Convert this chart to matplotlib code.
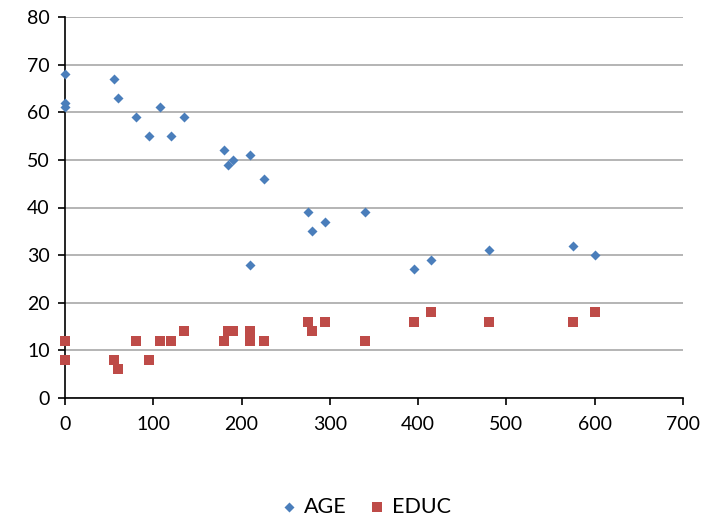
import matplotlib
matplotlib.use('Agg')
import matplotlib.pyplot as plt

plt.rcParams['font.family'] = ['Lato', 'DejaVu Sans']

age_x = [0, 0, 0, 55, 60, 80, 95, 108, 120, 135, 180, 185, 190, 210, 225,
         275, 280, 295, 340, 210, 395, 415, 480, 575, 600]
age_y = [68, 62, 61, 67, 63, 59, 55, 61, 55, 59, 52, 49, 50, 51, 46,
         39, 35, 37, 39, 28, 27, 29, 31, 32, 30]

educ_x = [0, 0, 55, 60, 80, 95, 108, 120, 135, 180, 185, 190, 210, 210, 225,
          275, 280, 295, 340, 395, 415, 480, 575, 600]
educ_y = [12, 8, 8, 6, 12, 8, 12, 12, 14, 12, 14, 14, 14, 12, 12,
          16, 14, 16, 12, 16, 18, 16, 16, 18]

fig = plt.figure(figsize=(7.04, 5.19), dpi=100)
ax = fig.add_axes([65 / 704, 1 - 398 / 519, 618 / 704, 381 / 519])

ax.scatter(age_x, age_y, marker='D', s=26, color='#4A7EBB', label='AGE',
           zorder=3, linewidths=0, clip_on=False)
ax.scatter(educ_x, educ_y, marker='s', s=44, color='#BE4B48', label='EDUC',
           zorder=3, linewidths=0, clip_on=False)

ax.set_xlim(0, 700)
ax.set_ylim(0, 80)
ax.set_xticks(range(0, 701, 100))
ax.set_yticks(range(0, 81, 10))
ax.yaxis.grid(True, color='#A0A0A0', linewidth=1.1)
ax.set_axisbelow(True)
for s in ['top', 'right']:
    ax.spines[s].set_visible(False)
for s in ['left', 'bottom']:
    ax.spines[s].set_color('black')
    ax.spines[s].set_linewidth(1.2)
ax.tick_params(axis='both', direction='out', length=5, width=1.2,
               labelsize=14, colors='black')
ax.tick_params(axis='x', pad=8)
ax.tick_params(axis='y', pad=6)

ax.legend(loc='center', bbox_to_anchor=(0.487, -0.285), ncol=2, frameon=False,
          fontsize=15.5, handlelength=0.8, handletextpad=0.3, columnspacing=1.0)

fig.savefig('out.png', dpi=100)
